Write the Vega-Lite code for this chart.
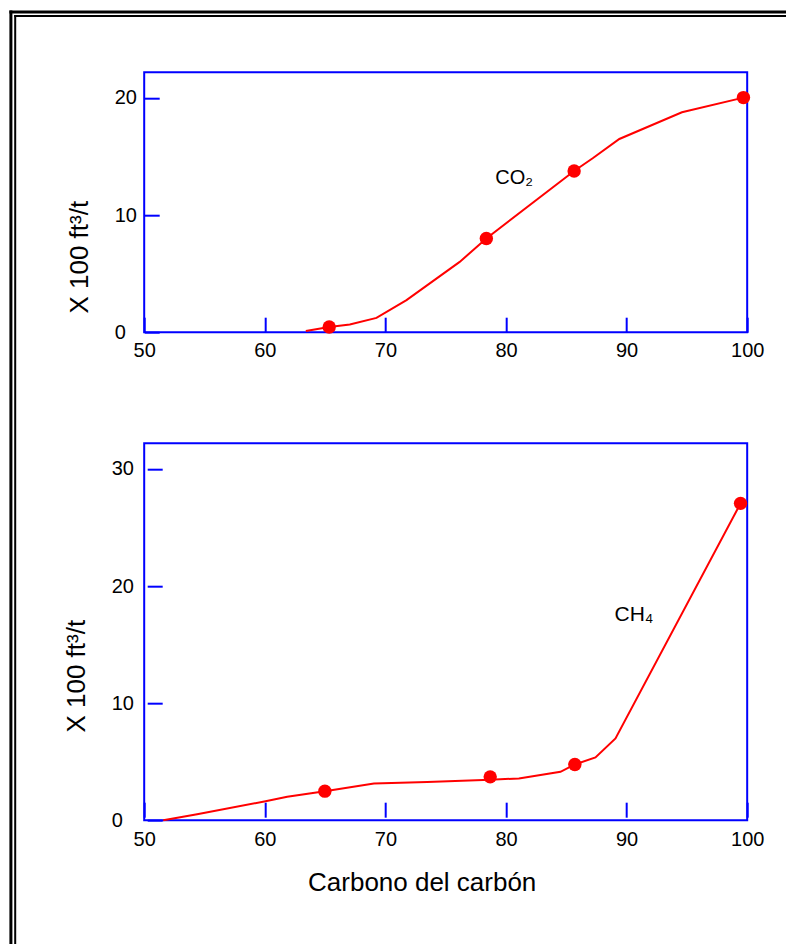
{
  "$schema": "https://vega.github.io/schema/vega-lite/v6.json",
  "background": "white",
  "padding": {"left": 6.2, "top": 7.2, "right": 0, "bottom": 0},
  "spacing": 111,
  "bounds": "flush",
  "config": {
    "font": "Liberation Sans",
    "view": {"stroke": "#0000FF", "strokeWidth": 2},
    "axis": {
      "labelFont": "Liberation Sans",
      "labelFontSize": 20,
      "labelColor": "#000000",
      "titleFont": "Liberation Sans",
      "titleFontSize": 26,
      "titleFontWeight": "normal",
      "titleColor": "#000000",
      "tickColor": "#0000FF",
      "tickWidth": 2,
      "tickSize": -15,
      "domain": false,
      "grid": false,
      "labelFlush": false,
      "labelOverlap": false
    }
  },
  "datasets": {
    "co2_line": [
      {"carbon": 63.4, "volume": 0.1},
      {"carbon": 65.34, "volume": 0.45},
      {"carbon": 67.05, "volume": 0.66},
      {"carbon": 69.26, "volume": 1.22},
      {"carbon": 71.75, "volume": 2.74},
      {"carbon": 76.16, "volume": 6.0},
      {"carbon": 78.37, "volume": 8.0},
      {"carbon": 85.65, "volume": 13.76},
      {"carbon": 87.19, "volume": 14.85},
      {"carbon": 89.4, "volume": 16.5},
      {"carbon": 94.59, "volume": 18.78},
      {"carbon": 99.69, "volume": 20.03}
    ],
    "co2_pts": [
      {"carbon": 65.34, "volume": 0.45},
      {"carbon": 78.37, "volume": 8.0},
      {"carbon": 85.65, "volume": 13.76},
      {"carbon": 99.69, "volume": 20.03}
    ],
    "ch4_line": [
      {"carbon": 51.58, "volume": 0.0},
      {"carbon": 54.39, "volume": 0.51},
      {"carbon": 60.06, "volume": 1.62},
      {"carbon": 61.86, "volume": 2.0},
      {"carbon": 64.98, "volume": 2.48},
      {"carbon": 69.05, "volume": 3.13},
      {"carbon": 73.47, "volume": 3.27},
      {"carbon": 78.69, "volume": 3.46},
      {"carbon": 81.07, "volume": 3.56},
      {"carbon": 84.52, "volume": 4.13},
      {"carbon": 85.71, "volume": 4.76},
      {"carbon": 87.42, "volume": 5.36},
      {"carbon": 89.08, "volume": 6.98},
      {"carbon": 99.45, "volume": 27.06}
    ],
    "ch4_pts": [
      {"carbon": 64.98, "volume": 2.48},
      {"carbon": 78.69, "volume": 3.7},
      {"carbon": 85.71, "volume": 4.76},
      {"carbon": 99.45, "volume": 27.06}
    ],
    "co2_label": [{"carbon": 79.11, "volume": 13.2, "label": "CO₂"}],
    "ch4_label": [{"carbon": 89.0, "volume": 17.5, "label": "CH₄"}]
  },
  "vconcat": [
    {
      "width": 603,
      "height": 260,
      "layer": [
        {
          "data": {"name": "co2_line"},
          "mark": {"type": "line", "color": "#FF0000", "strokeWidth": 2},
          "encoding": {
            "x": {
              "field": "carbon", "type": "quantitative",
              "scale": {"domain": [50, 100], "nice": false, "zero": false},
              "axis": {"values": [50, 60, 70, 80, 90, 100], "title": null, "labelPadding": 23}
            },
            "y": {
              "field": "volume", "type": "quantitative",
              "scale": {"domain": [0, 22.2], "nice": false, "zero": false},
              "axis": {"values": [0, 10, 20], "title": "X 100 ft³/t", "labelAlign": "left", "labelPadding": 45, "titleX": -51.75, "titleY": 184.5, "titleAlign": "center", "titleBaseline": "bottom"}
            }
          }
        },
        {
          "data": {"name": "co2_pts"},
          "mark": {"type": "circle", "color": "#FF0000", "size": 180, "opacity": 1},
          "encoding": {
            "x": {"field": "carbon", "type": "quantitative"},
            "y": {"field": "volume", "type": "quantitative"}
          }
        },
        {
          "data": {"name": "co2_label"},
          "mark": {"type": "text", "align": "left", "baseline": "middle", "fontSize": 20, "font": "Liberation Sans", "color": "#000000"},
          "encoding": {
            "x": {"field": "carbon", "type": "quantitative"},
            "y": {"field": "volume", "type": "quantitative"},
            "text": {"field": "label"}
          }
        },
        {
          "data": {"values": [{}]},
          "mark": {"type": "rule", "color": "#000000", "strokeWidth": 3},
          "encoding": {"x": {"value": -133.3}, "y": {"value": -61.8}, "y2": {"value": 872}}
        },
        {
          "data": {"values": [{}]},
          "mark": {"type": "rule", "color": "#000000", "strokeWidth": 2},
          "encoding": {"x": {"value": -129}, "y": {"value": -57.3}, "y2": {"value": 872}}
        },
        {
          "data": {"values": [{}]},
          "mark": {"type": "rule", "color": "#000000", "strokeWidth": 3},
          "encoding": {"y": {"value": -60.3}, "x": {"value": -134.8}, "x2": {"value": 642}}
        },
        {
          "data": {"values": [{}]},
          "mark": {"type": "rule", "color": "#000000", "strokeWidth": 2},
          "encoding": {"y": {"value": -56.3}, "x": {"value": -130}, "x2": {"value": 642}}
        }
      ]
    },
    {
      "width": 603,
      "height": 377,
      "layer": [
        {
          "data": {"name": "ch4_line"},
          "mark": {"type": "line", "color": "#FF0000", "strokeWidth": 2},
          "encoding": {
            "x": {
              "field": "carbon", "type": "quantitative",
              "scale": {"domain": [50, 100], "nice": false, "zero": false},
              "axis": {"values": [50, 60, 70, 80, 90, 100], "title": "Carbono del carbón", "offset": -3, "labelPadding": 27, "titleX": 277.5, "titleY": 52.8, "titleAlign": "center", "titleBaseline": "top"}
            },
            "y": {
              "field": "volume", "type": "quantitative",
              "scale": {"domain": [0, 32.2], "nice": false, "zero": false},
              "axis": {"values": [0, 10, 20, 30], "title": "X 100 ft³/t", "offset": -3, "labelAlign": "left", "labelPadding": 51, "titleX": -58, "titleY": 232.5, "titleAlign": "center", "titleBaseline": "bottom"}
            }
          }
        },
        {
          "data": {"name": "ch4_pts"},
          "mark": {"type": "circle", "color": "#FF0000", "size": 180, "opacity": 1},
          "encoding": {
            "x": {"field": "carbon", "type": "quantitative"},
            "y": {"field": "volume", "type": "quantitative"}
          }
        },
        {
          "data": {"name": "ch4_label"},
          "mark": {"type": "text", "align": "left", "baseline": "middle", "fontSize": 21, "font": "Liberation Sans", "color": "#000000"},
          "encoding": {
            "x": {"field": "carbon", "type": "quantitative"},
            "y": {"field": "volume", "type": "quantitative"},
            "text": {"field": "label"}
          }
        }
      ]
    }
  ]
}
